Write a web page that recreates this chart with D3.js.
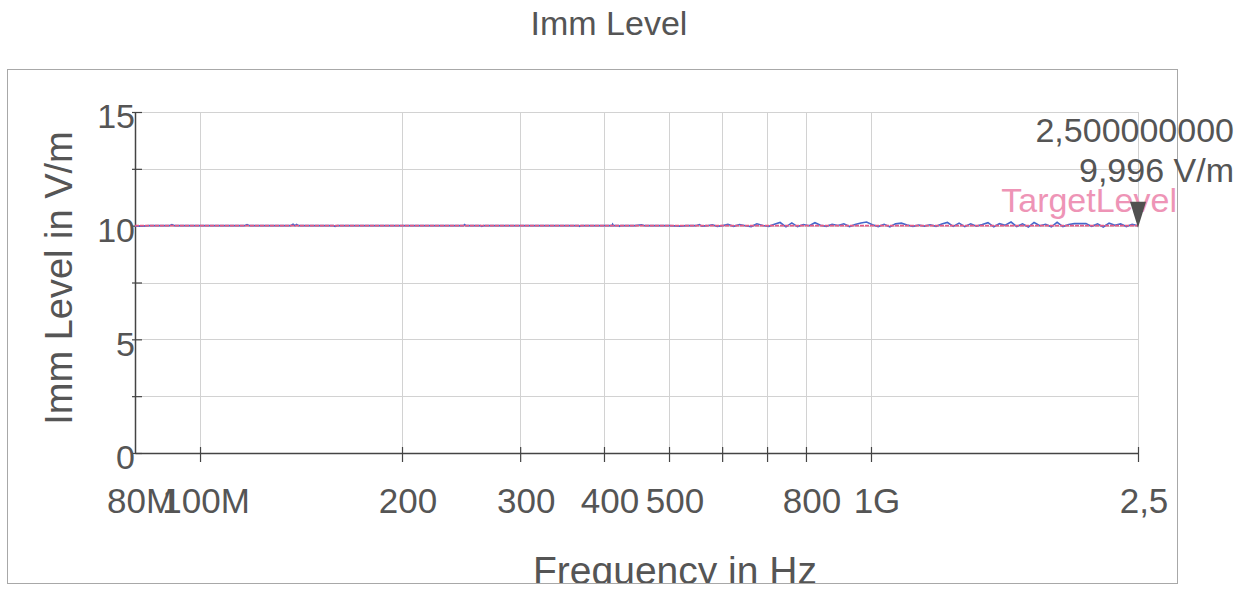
<!DOCTYPE html>
<html>
<head>
<meta charset="utf-8">
<script src="https://cdn.jsdelivr.net/npm/d3@7"></script>
<style>
  html, body { margin: 0; padding: 0; background: #fff; }
  svg { display: block; font-family: "Liberation Sans", Arial, sans-serif; }
</style>
</head>
<body>
<div id="grafico"></div>
<script>
// ==================== Imm Level – field strength vs frequency ====================

// measurement frequencies (MHz) and measured field strength (V/m)
const freqMHz = [
  80, 82, 84, 88, 90, 90.8, 91.6, 100, 110, 116.5, 117.5, 118.5, 130, 136.5, 137.6, 138.5,
  139.3, 140.2, 150, 158, 159, 160, 180, 200, 220, 247, 248, 249, 262, 263, 264.5, 300,
  330, 367, 368, 369.5, 395, 411, 412, 413, 421, 422, 423.5, 445, 455, 460, 480, 500,
  520, 530, 548, 555, 560, 570, 580, 590, 600,
  612, 624, 637, 650, 663, 676, 690, 704, 718, 732, 747, 762, 777, 793, 809, 825,
  841, 858, 875, 893, 911, 929, 947, 966, 985, 1005, 1025, 1046, 1067, 1088, 1110, 1132,
  1155, 1178, 1201, 1225, 1250, 1275, 1300, 1326, 1353, 1380, 1408, 1436, 1465, 1494, 1524, 1554,
  1585, 1617, 1649, 1682, 1716, 1750, 1785, 1821, 1857, 1894, 1932, 1971, 2010, 2050, 2091, 2133,
  2176, 2219, 2264, 2309, 2355, 2402, 2450, 2500
];
const levelVm = [
  9.98, 9.98, 10.00, 10.00, 10.00, 10.05, 10.00, 10.00, 10.00, 10.00, 10.05, 10.00, 10.00, 10.00, 10.06, 10.00,
  10.05, 10.00, 10.00, 10.00, 9.97, 10.00, 10.00, 10.00, 10.00, 10.00, 10.05, 10.00, 10.00, 9.97, 10.00, 10.00,
  10.00, 10.00, 9.97, 10.00, 10.00, 10.00, 10.06, 10.00, 10.00, 9.97, 10.00, 10.00, 10.04, 10.00, 10.00, 10.00,
  9.98, 10.00, 10.00, 10.05, 9.98, 10.00, 10.04, 9.97, 10.00,
  10.06, 9.97, 10.05, 10.00, 9.96, 10.08, 10.01, 9.97, 10.06, 10.14, 9.95, 10.12, 9.96, 10.05, 10.00, 10.13,
  10.02, 9.97, 10.06, 10.01, 10.08, 9.96, 10.05, 10.12, 10.16, 10.04, 9.96, 10.06, 9.95, 10.08, 10.11, 10.03,
  9.97, 10.03, 9.98, 10.04, 9.97, 10.07, 10.14, 9.97, 10.11, 9.96, 10.08, 9.98, 10.05, 10.13, 9.95, 10.09,
  10.02, 10.16, 9.96, 10.08, 9.94, 10.14, 10.00, 10.06, 9.95, 10.15, 9.96, 10.05, 10.09, 10.09, 10.09, 9.97,
  10.08, 9.94, 10.11, 10.02, 10.08, 9.96, 10.06, 9.996
];
const targetLevel = 10;

// axis ticks and labels
const yTicks = [0, 2.5, 5, 7.5, 10, 12.5, 15];
const yLabels = {0: "0", 5: "5", 10: "10", 15: "15"};
const xTicksMHz = [100, 200, 300, 400, 500, 600, 700, 800, 1000, 2500];
const xLabels = [
  {f: 80, t: "80M"}, {f: 100, t: "100M"}, {f: 200, t: "200"}, {f: 300, t: "300"},
  {f: 400, t: "400"}, {f: 500, t: "500"}, {f: 800, t: "800"}, {f: 1000, t: "1G"}, {f: 2500, t: "2,5"}
];
const markerText = ["2,500000000", "9,996 V/m"];

const width = 1248;
const height = 590;
const marginLeft = 135;
const plotRight = 1138;
const plotTop = 112;
const plotBottom = 453;

const x = d3.scaleLog().domain([80, 2500]).range([marginLeft, plotRight]);
const y = d3.scaleLinear().domain([0, 15]).range([plotBottom, plotTop]);

const svg = d3.select("#grafico")
  .append("svg")
  .attr("width", width)
  .attr("height", height)
  .attr("viewBox", [0, 0, width, height]);

svg.append("rect").attr("width", width).attr("height", height).attr("fill", "#fff");

// clip for the bottom edge of the frame
svg.append("clipPath").attr("id", "clipFrame")
  .append("rect").attr("x", 0).attr("y", 0).attr("width", width).attr("height", 583);

// outer frame
svg.append("rect")
  .attr("x", 7.5).attr("y", 69.5)
  .attr("width", 1170).attr("height", 514)
  .attr("fill", "none").attr("stroke", "#a8a8a8").attr("stroke-width", 1);

// title
svg.append("text")
  .attr("x", 609).attr("y", 35)
  .attr("text-anchor", "middle")
  .attr("font-size", 34).attr("fill", "#555")
  .text("Imm Level");

// grid
const grid = svg.append("g").attr("stroke", "#d2d2d2").attr("stroke-width", 1);
grid.selectAll(".gy").data(yTicks.filter(d => d > 0)).join("line")
  .attr("x1", marginLeft).attr("x2", plotRight)
  .attr("y1", d => Math.round(y(d)) + 0.5).attr("y2", d => Math.round(y(d)) + 0.5);
grid.selectAll(".gx").data(xTicksMHz).join("line")
  .attr("x1", d => Math.round(x(d)) + 0.5).attr("x2", d => Math.round(x(d)) + 0.5)
  .attr("y1", plotTop).attr("y2", plotBottom);

// y axis
const yAxis = svg.append("g")
  .attr("transform", `translate(${marginLeft},0)`)
  .call(d3.axisLeft(y).tickValues(yTicks).tickFormat(d => yLabels[d] || "").tickSizeOuter(0));
yAxis.select(".domain").attr("stroke", "#444").attr("stroke-width", 1.5);
yAxis.selectAll(".tick line").attr("x1", -3).attr("x2", 7).attr("stroke", "#444").attr("stroke-width", 1.2);
yAxis.selectAll(".tick text")
  .attr("x", 0).attr("dy", "0.32em").attr("y", 5)
  .attr("font-size", 34).attr("font-family", "Liberation Sans, Arial, sans-serif").attr("fill", "#555");

// x axis
const xAxis = svg.append("g")
  .attr("transform", `translate(0,${plotBottom})`)
  .call(d3.axisBottom(x).tickValues(xTicksMHz).tickFormat("").tickSizeOuter(0));
xAxis.select(".domain").attr("stroke", "#444").attr("stroke-width", 1.5);
xAxis.selectAll(".tick line").attr("y1", -6).attr("y2", 9).attr("stroke", "#444").attr("stroke-width", 1.2);

svg.append("g").selectAll("text").data(xLabels).join("text")
  .attr("x", d => x(d.f) + 6).attr("y", 513)
  .attr("text-anchor", "middle")
  .attr("font-size", 35).attr("fill", "#555")
  .text(d => d.t);

// axis titles
svg.append("text")
  .attr("transform", "translate(72,278) rotate(-90)")
  .attr("text-anchor", "middle")
  .attr("font-size", 38).attr("fill", "#555")
  .text("Imm Level in V/m");

svg.append("text")
  .attr("clip-path", "url(#clipFrame)")
  .attr("x", 675).attr("y", 584)
  .attr("text-anchor", "middle")
  .attr("font-size", 39).attr("fill", "#555")
  .text("Frequency in Hz");

// measured level
const data = freqMHz.map((f, i) => ({f, v: levelVm[i]}));
svg.append("path")
  .datum(data)
  .attr("fill", "none")
  .attr("stroke", "#4468cc")
  .attr("stroke-width", 1.6)
  .attr("d", d3.line().x(d => x(d.f)).y(d => y(d.v)));

// target level (drawn on top)
svg.append("path")
  .datum([80, 2500])
  .attr("fill", "none")
  .attr("stroke", "#e65a86")
  .attr("stroke-width", 1.6)
  .attr("stroke-dasharray", "4,1")
  .attr("d", d3.line().x(d => x(d)).y(() => y(targetLevel)));

svg.append("text")
  .attr("x", 1177).attr("y", 212)
  .attr("text-anchor", "end")
  .attr("font-size", 34).attr("fill", "#ee94b6")
  .text("TargetLevel");

// marker at the last point
const last = data[data.length - 1];
const mx = x(last.f), my = y(last.v);
svg.append("path")
  .attr("d", `M${mx - 8},${my - 24} L${mx + 8},${my - 24} L${mx},${my + 2} Z`)
  .attr("fill", "#505050");

svg.append("g").selectAll("text").data(markerText).join("text")
  .attr("x", 1234).attr("y", (d, i) => 142 + i * 40)
  .attr("text-anchor", "end")
  .attr("font-size", 34).attr("fill", "#555")
  .text(d => d);
</script>
</body>
</html>
